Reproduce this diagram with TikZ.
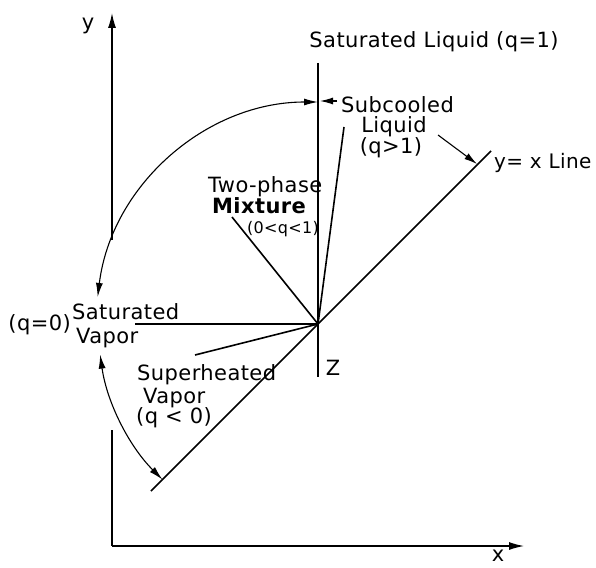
\documentclass[tikz,border=0pt]{standalone}
\usepackage{fontspec}
\setmainfont{DejaVu Sans}[LetterSpace=2]
\usetikzlibrary{arrows.meta}
\begin{document}
\begin{tikzpicture}[x=1pt,y=1pt,
  axis/.style={line width=1.3pt},
  phase/.style={line width=1.6pt},
  twoarc/.style={line width=1.1pt, {Latex[length=14pt,width=7pt]}-{Latex[length=14pt,width=7pt]}},
  pointer/.style={line width=1.1pt, -{Latex[length=13pt,width=7pt]}},
  axarrow/.style={line width=1.3pt, -{Latex[length=15pt,width=8pt]}},
  lab/.style={inner sep=0pt, font=\fontsize{21}{24}\selectfont},
  narrow/.style={inner sep=0pt, font=\fontsize{20}{23}\selectfont},
  small/.style={inner sep=0pt, font=\fontsize{16}{19}\selectfont}]
\useasboundingbox (0,0) rectangle (596,-567);
% coordinates
\coordinate (O) at (318,-324);
\coordinate (ytop) at (112,-13);
\coordinate (yup) at (112,-240);
\coordinate (ylow) at (112,-430);
\coordinate (orig) at (112,-546);
\coordinate (xend) at (524,-546);
\coordinate (slTop) at (318,-63);
\coordinate (slBot) at (318,-377);
\coordinate (yxLow) at (151,-491);
\coordinate (yxHigh) at (491,-151);
\coordinate (svEnd) at (135,-324);
\coordinate (shEnd) at (195,-355);
\coordinate (tpEnd) at (232,-217);
\coordinate (scEnd) at (344,-127);
\coordinate (scTail) at (337,-101);
\coordinate (scTip) at (320,-101);
\coordinate (lqTail) at (438,-135);
\coordinate (lqTip) at (477,-164);
% axes
\draw[axarrow] (yup) -- (ytop);
\draw[axis] (ylow) -- (orig);
\draw[axarrow] (orig) -- (xend);
% phase lines
\draw[phase] (slTop) -- (slBot);
\draw[phase] (yxLow) -- (yxHigh);
\draw[phase] (svEnd) -- (O);
\draw[phase] (shEnd) -- (O);
\draw[phase] (tpEnd) -- (O);
\draw[phase] (scEnd) -- (O);
% arcs
\draw[twoarc] ([shift={(90:222)}]O) arc[start angle=90,end angle=173,radius=222];
\draw[twoarc] ([shift={(188:220)}]O) arc[start angle=188,end angle=225,radius=220];
% pointers
\draw[pointer] (scTail) -- (scTip);
\draw[pointer] (lqTail) -- (lqTip);
% labels
\node[lab,anchor=base] (ylab) at (88,-30) {y};
\node[lab,anchor=base] (xlab) at (498,-561) {x};
\node[lab,anchor=base] (zlab) at (333,-375) {Z};
\node[lab,anchor=base] (satliq) at (434,-48) {Saturated Liquid (q=1)};
\node[lab,anchor=base west] (subc) at (341,-112) {Subcooled};
\node[lab,anchor=base] (subc2) at (394,-132) {Liquid};
\node[lab,anchor=base] (subc3) at (391,-153) {(q>1)};
\node[narrow,anchor=base west] (yx) at (494,-168) {y= x Line};
\node[lab,anchor=base west] (tp1) at (208,-192) {Two-phase};
\node[lab,anchor=base west] (tp2) at (212,-213) {\bfseries Mixture};
\node[small,anchor=base west] (tp3) at (247,-233) {(0<q<1)};
\node[lab,anchor=base west] (sv1) at (72,-319) {Saturated};
\node[lab,anchor=base west] (sv2) at (76,-343) {Vapor};
\node[lab,anchor=base east] (sv3) at (71,-330) {(q=0)};
\node[lab,anchor=base west] (sh1) at (137,-380) {Superheated};
\node[lab,anchor=base west] (sh2) at (143,-403) {Vapor};
\node[lab,anchor=base west] (sh3) at (136,-423) {(q < 0)};
\end{tikzpicture}
\end{document}
